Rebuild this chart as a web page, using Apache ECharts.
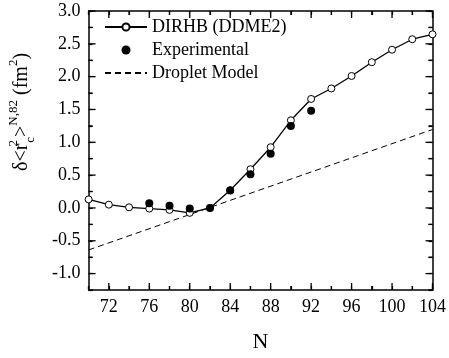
<!DOCTYPE html>
<html>
<head>
<meta charset="utf-8">
<script src="https://cdn.jsdelivr.net/npm/echarts@6/dist/echarts.min.js"></script>
<style>
  html, body { margin: 0; padding: 0; background: #fff; }
  #chart { width: 449px; height: 358px; }
</style>
</head>
<body>
<div id="chart"></div>
<script>
const FONT = "'Liberation Serif', 'Times New Roman', serif";

// DIRHB (DDME2) calculation, open circles
const dirhbN = [70, 72, 74, 76, 78, 80, 82, 84, 86, 88, 90, 92, 94, 96, 98, 100, 102, 104];
const dirhbVals = [0.13, 0.05, 0.01, -0.01, -0.03, -0.075, 0.0, 0.27, 0.59, 0.925, 1.335, 1.66, 1.82, 2.01, 2.22, 2.41, 2.57, 2.645];

// experimental points, filled circles
const expN = [76, 78, 80, 82, 84, 86, 88, 90, 92];
const expVals = [0.07, 0.035, -0.01, 0.0, 0.265, 0.515, 0.825, 1.25, 1.48];

// droplet model, straight dashed line
const dropletN = [70, 104];
const dropletVals = [-0.64, 1.195];

// tick labels (long ticks) and short ticks
const xTickLabels = [72, 76, 80, 84, 88, 92, 96, 100, 104];
const xMinorTicks = [70, 74, 78, 82, 86, 90, 94, 98, 102];
const yTickLabels = [-1.0, -0.5, 0.0, 0.5, 1.0, 1.5, 2.0, 2.5, 3.0];
const yMinorTicks = [-1.25, -0.75, -0.25, 0.25, 0.75, 1.25, 1.75, 2.25, 2.75];

const X_MIN = 70, X_MAX = 104, X_STEP = 2;
const Y_MIN = -1.25, Y_MAX = 3.0, Y_STEP = 0.25;
const MAJOR_LEN = 7, MINOR_LEN = 4;

const zip = (xs, ys) => xs.map((x, i) => [x, ys[i]]);
const isXMajor = (v) => xTickLabels.some((t) => Math.abs(t - Number(v)) < 1e-6);
const isYMajor = (v) => yTickLabels.some((t) => Math.abs(t - Number(v)) < 1e-6);

function xValueAxis(position, showLabel) {
  return {
    type: "value", min: X_MIN, max: X_MAX, interval: X_STEP, position,
    axisLine: { show: true, onZero: false, lineStyle: { color: "#000", width: 1.5 } },
    axisTick: { show: true, inside: true, length: MINOR_LEN, lineStyle: { color: "#000", width: 1.2 } },
    axisLabel: {
      show: showLabel, margin: 8, color: "#000", fontFamily: FONT, fontSize: 18,
      formatter: (v) => (isXMajor(v) ? String(v) : ""),
    },
    splitLine: { show: false },
  };
}
function yValueAxis(position, showLabel) {
  return {
    type: "value", min: Y_MIN, max: Y_MAX, interval: Y_STEP, position,
    axisLine: { show: true, onZero: false, lineStyle: { color: "#000", width: 1.5 } },
    axisTick: { show: true, inside: true, length: MINOR_LEN, lineStyle: { color: "#000", width: 1.2 } },
    axisLabel: {
      show: showLabel, margin: 8, color: "#000", fontFamily: FONT, fontSize: 18,
      formatter: (v) => (isYMajor(v) ? v.toFixed(1) : ""),
    },
    splitLine: { show: false },
  };
}

// inward ticks on all four sides, placed through the axes' own scales
function tickLine(x1, y1, x2, y2) {
  return { type: "line", shape: { x1, y1, x2, y2 }, style: { stroke: "#000", lineWidth: 1.3 } };
}
function renderXTick(params, api) {
  const p = api.coord([api.value(0), api.value(1)]);
  const pTop = api.coord([api.value(0), Y_MAX]);
  const len = api.value(2);
  return {
    type: "group",
    children: [tickLine(p[0], p[1], p[0], p[1] - len), tickLine(pTop[0], pTop[1], pTop[0], pTop[1] + len)],
  };
}
function renderYTick(params, api) {
  const p = api.coord([api.value(0), api.value(1)]);
  const pRight = api.coord([X_MAX, api.value(1)]);
  const len = api.value(2);
  return {
    type: "group",
    children: [tickLine(p[0], p[1], p[0] + len, p[1]), tickLine(pRight[0], pRight[1], pRight[0] - len, pRight[1])],
  };
}

const chart = echarts.init(document.getElementById("chart"), null, { renderer: "canvas" });

chart.setOption({
  backgroundColor: "#fff",
  animation: false,
  grid: { left: 88.6, right: 14, top: 11, bottom: 63 },
  xAxis: [
    Object.assign(xValueAxis("bottom", true), {
      name: "N", nameLocation: "middle", nameGap: 41,
      nameTextStyle: { color: "#000", fontFamily: FONT, fontSize: 22 },
    }),
    xValueAxis("top", false),
  ],
  yAxis: [
    yValueAxis("left", true),
    yValueAxis("right", false),
  ],
  legend: {
    orient: "vertical",
    left: 104, top: 18, padding: 0,
    itemWidth: 42, itemHeight: 9, itemGap: 5,
    textStyle: { color: "#000", fontFamily: FONT, fontSize: 18 },
    data: [
      "DIRHB (DDME2)",
      "Experimental",
      { name: "Droplet Model", itemStyle: { opacity: 0 } },
    ],
  },
  graphic: [{
    type: "text",
    x: 22, y: 112,
    rotation: Math.PI / 2,
    style: {
      text: "{a|δ<r}{s2|2}{c|c}{a|>}{n|N,82}{a| (fm}{s|2}{a|)}",
      align: "center", verticalAlign: "middle",
      fill: "#000",
      rich: {
        a: { fontFamily: FONT, fontSize: 20, lineHeight: 30, verticalAlign: "middle", fill: "#000" },
        s2: { fontFamily: FONT, fontSize: 13, lineHeight: 30, verticalAlign: "top", width: 1, fill: "#000" },
        c: { fontFamily: FONT, fontSize: 13, lineHeight: 30, verticalAlign: "bottom", fill: "#000" },
        n: { fontFamily: FONT, fontSize: 13, lineHeight: 30, verticalAlign: "top", fill: "#000" },
        s: { fontFamily: FONT, fontSize: 13, lineHeight: 30, verticalAlign: "top", fill: "#000" },
      },
    },
  }],
  series: [
    {
      name: "Droplet Model",
      type: "line",
      data: zip(dropletN, dropletVals),
      symbol: "none",
      lineStyle: { color: "#000", width: 1, type: [6, 4] },
      itemStyle: { color: "#000" },
    },
    {
      name: "DIRHB (DDME2)",
      type: "line",
      data: zip(dirhbN, dirhbVals),
      symbol: "circle", symbolSize: 7,
      clip: false,
      lineStyle: { color: "#000", width: 1.3 },
      itemStyle: { color: "#fff", borderColor: "#000", borderWidth: 1 },
    },
    {
      name: "Experimental",
      type: "scatter",
      data: zip(expN, expVals),
      symbol: "circle", symbolSize: 8,
      itemStyle: { color: "#000", opacity: 1 },
      z: 5,
    },
    {
      name: "xticks",
      type: "custom",
      silent: true, clip: false,
      zlevel: 1, z: 10,
      renderItem: renderXTick,
      data: xTickLabels.map((v) => [v, Y_MIN, MAJOR_LEN]).concat(xMinorTicks.map((v) => [v, Y_MIN, MINOR_LEN])),
    },
    {
      name: "yticks",
      type: "custom",
      silent: true, clip: false,
      zlevel: 1, z: 10,
      renderItem: renderYTick,
      data: yTickLabels.map((v) => [X_MIN, v, MAJOR_LEN]).concat(yMinorTicks.map((v) => [X_MIN, v, MINOR_LEN])),
    },
  ],
});
</script>
</body>
</html>
